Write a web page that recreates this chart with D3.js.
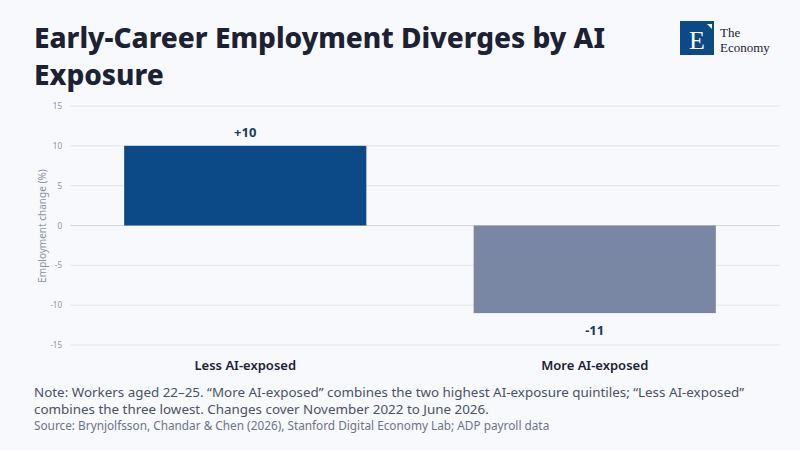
<!DOCTYPE html>
<html><head><meta charset="utf-8">
<script src="https://cdn.jsdelivr.net/npm/d3@7"></script>
<style>
body{margin:0;background:#f8f9fd;}
text{font-family:"Noto Sans",sans-serif;}
</style></head>
<body><svg width="800" height="450"></svg>
<script>
var categories = ["Less AI-exposed", "More AI-exposed"]
var values = [10, -11]
var labels = ["+10", "-11"]
var ticks = [-15, -10, -5, 0, 5, 10, 15]
var colors = ["#0b4a87", "#7a87a4"]

var svg = d3.select("svg")
svg.append("rect").attr("width", 800).attr("height", 450).attr("fill", "#f8f9fd")

svg.append("text").attr("x", 34).attr("y", 48).attr("fill", "#1c2233")
    .style("font-size", "28px").style("font-weight", 800).text("Early-Career Employment Diverges by AI")
svg.append("text").attr("x", 34).attr("y", 85).attr("fill", "#1c2233")
    .style("font-size", "28px").style("font-weight", 800).text("Exposure")

// logo
svg.append("rect").attr("x", 680).attr("y", 21).attr("width", 34).attr("height", 34).attr("fill", "#0b4a87")
svg.append("text").attr("x", 697).attr("y", 49).attr("text-anchor", "middle").attr("fill", "#fff")
    .style("font-family", "Liberation Serif, serif").style("font-size", "26px").text("E")
svg.append("path").attr("d", "M707,24 L712,24 L712,29 Z").attr("fill", "#fff")
svg.append("text").attr("x", 720).attr("y", 37).attr("fill", "#1c2233")
    .style("font-family", "Liberation Serif, serif").style("font-size", "13px").text("The")
svg.append("text").attr("x", 720).attr("y", 52).attr("fill", "#1c2233")
    .style("font-family", "Liberation Serif, serif").style("font-size", "13px").text("Economy")

var y = d3.scaleLinear().domain([-15, 15]).range([345, 106])
var x = d3.scaleBand().domain(categories).range([70, 770]).paddingInner(0.307).paddingOuter(0.155)

svg.append("g").selectAll("line").data(ticks).enter().append("line")
    .attr("x1", 70).attr("x2", 780)
    .attr("y1", function(d) { return y(d) }).attr("y2", function(d) { return y(d) })
    .attr("stroke", function(d) { return d == 0 ? "#d4d7de" : "#e3e5ec" }).attr("stroke-width", 1)

svg.append("g").selectAll("text").data(ticks).enter().append("text")
    .attr("x", 62).attr("y", function(d) { return y(d) + 3 }).attr("text-anchor", "end")
    .attr("fill", "#8a93a8").style("font-size", "8px").text(function(d) { return d })

svg.append("text").attr("transform", "translate(46,226) rotate(-90)").attr("text-anchor", "middle")
    .attr("fill", "#8a93a8").style("font-size", "10px").text("Employment change (%)")

svg.append("g").selectAll("rect").data(values).enter().append("rect")
    .attr("x", function(d, i) { return x(categories[i]) })
    .attr("width", x.bandwidth())
    .attr("y", function(d) { return y(Math.max(0, d)) })
    .attr("height", function(d) { return Math.abs(y(d) - y(0)) })
    .attr("fill", function(d, i) { return colors[i] })

svg.append("g").selectAll("text").data(values).enter().append("text")
    .attr("x", function(d, i) { return x(categories[i]) + x.bandwidth() / 2 })
    .attr("y", function(d) { return d > 0 ? y(d) - 9 : y(d) + 22 })
    .attr("text-anchor", "middle").attr("fill", "#1b3a66")
    .style("font-size", "13px").style("font-weight", 700).text(function(d, i) { return labels[i] })

svg.append("g").selectAll("text").data(categories).enter().append("text")
    .attr("x", function(d) { return x(d) + x.bandwidth() / 2 }).attr("y", 370)
    .attr("text-anchor", "middle").attr("fill", "#1c2233")
    .style("font-size", "13px").style("font-weight", 600).text(function(d) { return d })

var notes = ["Note: Workers aged 22\u201325. \u201cMore AI-exposed\u201d combines the two highest AI-exposure quintiles; \u201cLess AI-exposed\u201d",
    "combines the three lowest. Changes cover November 2022 to June 2026."]
svg.append("g").selectAll("text").data(notes).enter().append("text")
    .attr("x", 34).attr("y", function(d, i) { return 397 + i * 17 })
    .attr("fill", "#4a5266").style("font-size", "13.4px").text(function(d) { return d })
svg.append("text").attr("x", 34).attr("y", 430).attr("fill", "#6b7489").style("font-size", "11.8px")
    .text("Source: Brynjolfsson, Chandar & Chen (2026), Stanford Digital Economy Lab; ADP payroll data")
</script></body></html>
